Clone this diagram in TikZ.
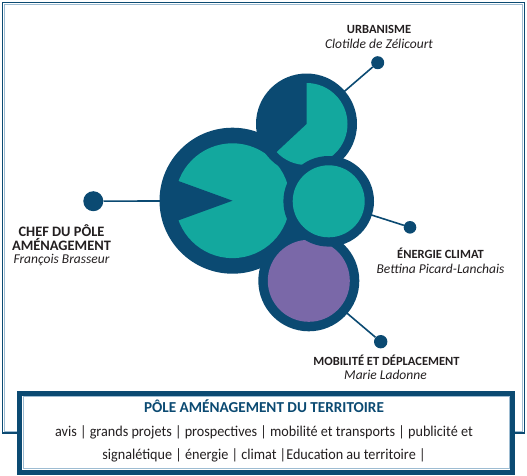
\documentclass[tikz,border=0pt]{standalone}
\usepackage{fontspec}
\setmainfont{Carlito}
\newfontfamily\bodyfont[FakeStretch=0.945]{Carlito}
\definecolor{dblue}{HTML}{0B4A72}
\definecolor{tealc}{HTML}{13A89E}
\definecolor{purp}{HTML}{7A68A8}
\definecolor{lline}{HTML}{9DBCD2}
\definecolor{txt}{HTML}{231F20}
\tikzset{
  lbl/.style={text=txt, font=\fontsize{12.5}{14}\selectfont\bfseries, anchor=base, inner sep=0pt},
  biglbl/.style={text=txt, font=\fontsize{14.4}{15}\selectfont\bfseries, anchor=base, inner sep=0pt},
  nm/.style={text=txt, font=\fontsize{13.5}{14}\selectfont\itshape, anchor=base, inner sep=0pt},
  dot/.style={circle, fill=dblue, inner sep=0pt, draw=none},
  conn/.style={draw=dblue, line width=1.6pt},
  bodytxt/.style={text=txt, font=\bodyfont\fontsize{15}{23}\selectfont, anchor=base, inner sep=0pt},
}
\begin{document}
\begin{tikzpicture}[x=1pt,y=-1pt]
\useasboundingbox (0,0) rectangle (527,475);
% outer frame
\draw[dblue, line width=1.8pt] (2.5,2.5) rectangle (524.5,432.7);
\draw[lline, line width=0.8pt] (4.2,4.2) rectangle (522.8,431);
% centres
\coordinate (bigc) at (232.5,200.7);
\coordinate (topc) at (306.5,124);
\coordinate (midc) at (328.7,201.3);
\coordinate (botc) at (308.8,280.8);
% dots
\node[dot, minimum size=20pt] (ldot) at (93.3,201.2) {};
\node[dot, minimum size=13pt] (udot) at (377.7,62.7) {};
\node[dot, minimum size=12.6pt] (edot) at (410,227.3) {};
\node[dot, minimum size=13.4pt] (mdot) at (380.7,341.7) {};
% connectors
\draw[conn] (ldot) -- (bigc);
\draw[conn] (udot) -- (topc);
\draw[conn] (edot) -- (midc);
\draw[conn] (mdot) -- (botc);
% big circle
\fill[dblue] (bigc) circle[radius=73];
\fill[tealc] (bigc) circle[radius=57.4];
\begin{scope}[shift={(bigc)}]
  \fill[dblue] (0,0) -- (160:65) -- (200:65) -- cycle;
\end{scope}
% top circle
\fill[dblue] (topc) circle[radius=50.5];
\fill[tealc] (topc) circle[radius=41];
\begin{scope}[shift={(topc)}]
  \fill[dblue] (0,0) -- (137:46) -- (170:46) -- (203:46) -- (236:46) -- (270:46) -- cycle;
\end{scope}
% bottom circle
\fill[dblue] (botc) circle[radius=50.5];
\fill[purp] (botc) circle[radius=41];
% middle circle
\fill[dblue] (midc) circle[radius=45.3];
\fill[tealc] (midc) circle[radius=36];
% labels
\node[lbl] (urb) at (379,33.8) {URBANISME};
\node[nm] (urbn) at (379,48.8) {Clotilde de Zélicourt};
\node[biglbl] (chef1) at (61.5,236.5) {CHEF DU PÔLE};
\node[biglbl] (chef2) at (61.5,250) {AMÉNAGEMENT};
\node[nm] (chefn) at (61.5,263) {François Brasseur};
\node[lbl] (ener) at (440.5,258) {ÉNERGIE CLIMAT};
\node[nm] (enern) at (440.5,273.5) {Bettina Picard-Lanchais};
\node[lbl] (mob) at (386.5,365.7) {MOBILITÉ ET DÉPLACEMENT};
\node[nm] (mobn) at (385.5,379.5) {Marie Ladonne};
% bottom box
\draw[dblue, line width=5pt, fill=white] (19.8,393.2) rectangle (512.5,472);
\draw[lline, line width=0.9pt] (23.3,396.7) rectangle (509,468.5);
\node[text=dblue, font=\fontsize{15.2}{16}\selectfont\bfseries, anchor=base, inner sep=0pt] (ptitle) at (264,412.5) {PÔLE AMÉNAGEMENT DU TERRITOIRE};
\node[bodytxt] (body1) at (264,436) {avis | grands projets | prospectives | mobilité et transports | publicité et};
\node[bodytxt] (body2) at (264,459) {signalétique | énergie | climat |Education au territoire |};
\end{tikzpicture}
\end{document}
